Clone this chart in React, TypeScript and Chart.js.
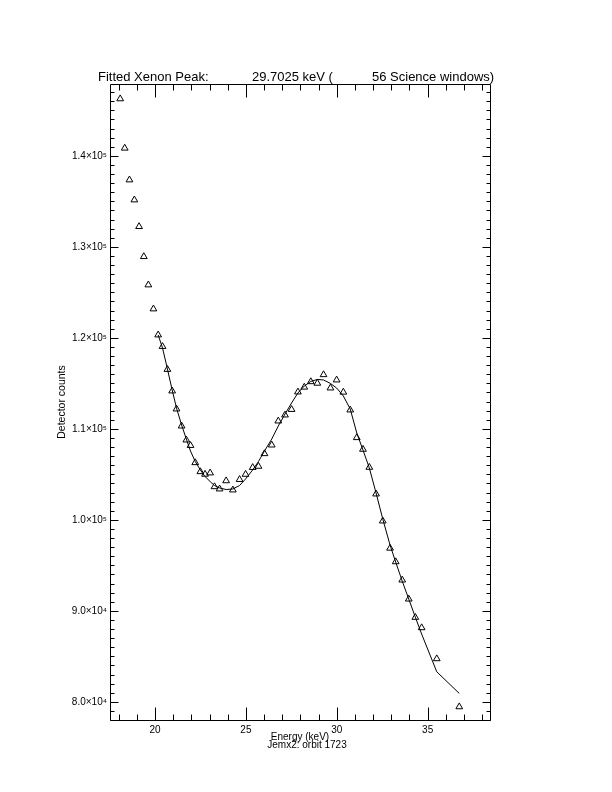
import React, { useEffect, useRef } from "react";
import { Chart, registerables } from "chart.js";

Chart.register(...registerables);

// ---- data ----
const energyKeV = [
  18.08, 18.33, 18.59, 18.86, 19.12, 19.38, 19.63, 19.91, 20.17, 20.41,
  20.68, 20.94, 21.18, 21.46, 21.72, 21.95, 22.21, 22.49, 22.75, 23.03,
  23.27, 23.55, 23.91, 24.28, 24.65, 24.98, 25.37, 25.69, 26.02, 26.42,
  26.78, 27.15, 27.51, 27.86, 28.21, 28.57, 28.93, 29.27, 29.65, 29.99,
  30.36, 30.74, 31.1, 31.44, 31.79, 32.16, 32.53, 32.93, 33.24, 33.6,
  33.96, 34.32, 34.67, 35.5, 36.74,
];

const detectorCounts = [
  146270, 140850, 137360, 135160, 132230, 128930, 125820, 123180, 120320, 119050,
  116530, 114160, 112180, 110310, 108770, 108170, 106280, 105290, 105010, 105150,
  103640, 103390, 104290, 103280, 104430, 105000, 105750, 105880, 107270, 108220,
  110860, 111520, 112130, 114050, 114580, 115180, 115010, 115950, 114490, 115370,
  114030, 112070, 109030, 107750, 105770, 102840, 99870, 96880, 95390, 93380,
  91290, 89280, 88140, 84730, 79450,
];

const fitCounts: (number | null)[] = [
  null, null, null, null, null, null, null, null, 120320, 118890,
  116580, 114270, 112290, 110420, 108880, 107560, 106410, 105480, 104760, 104210,
  103770, 103500, 103330, 103390, 103770, 104490, 105480, 106410, 107560, 108880,
  110310, 111630, 112840, 113940, 114710, 115210, 115430, 115370, 114990, 114490,
  113610, 112180, 109540, 107670, 105700, 102950, 100090, 97230, 95360, 93270,
  91290, 89310, 87440, 83300, 80920,
];

const xRange = [17.52, 38.43];
const yRange = [78000, 147900];
const xMajorTicks = [20, 25, 30, 35];
const xTickLabels = ["20", "25", "30", "35"];
const xMinorStep = 1;
const yMajorTicks = [80000, 90000, 100000, 110000, 120000, 130000, 140000];
const yTickLabels = ["8.0×10⁴", "9.0×10⁴", "1.0×10⁵", "1.1×10⁵", "1.2×10⁵", "1.3×10⁵", "1.4×10⁵"];
const yMinorStep = 1000;

const titleParts = ["Fitted Xenon Peak:", "29.7025 keV (", "56 Science windows)"];
const xTitle = "Energy (keV)";
const xSubTitle = "Jemx2: orbit 1723";
const yTitle = "Detector counts";

const FONT = "'Liberation Sans', Arial, sans-serif";

const idlFrame = {
  id: "idlFrame",
  afterDraw(chart: any) {
    const { ctx, chartArea: a, scales } = chart;
    const xs = scales.x;
    const ys = scales.y;
    const L = Math.round(a.left) + 0.5;
    const R = Math.round(a.right) + 0.5;
    const T = Math.round(a.top) + 0.5;
    const B = Math.round(a.bottom) + 0.5;
    ctx.save();
    ctx.strokeStyle = "#000";
    ctx.lineWidth = 1;
    ctx.beginPath();
    ctx.rect(L, T, R - L, B - T);
    // x ticks (bottom and top)
    const xMin = Math.ceil(xRange[0]);
    for (let v = xMin; v <= xRange[1]; v += xMinorStep) {
      const major = xMajorTicks.includes(v);
      const len = major ? 13 : 6;
      const px = Math.round(xs.getPixelForValue(v)) + 0.5;
      ctx.moveTo(px, B);
      ctx.lineTo(px, B - len);
      ctx.moveTo(px, T);
      ctx.lineTo(px, T + len);
    }
    // y ticks (left and right)
    const yMin = Math.ceil(yRange[0] / yMinorStep) * yMinorStep;
    for (let v = yMin; v <= yRange[1]; v += yMinorStep) {
      const major = yMajorTicks.includes(v);
      const len = major ? 8 : 4;
      const py = Math.round(ys.getPixelForValue(v)) + 0.5;
      ctx.moveTo(L, py);
      ctx.lineTo(L + len, py);
      ctx.moveTo(R, py);
      ctx.lineTo(R - len, py);
    }
    ctx.stroke();

    // titles
    ctx.fillStyle = "#000";
    ctx.textBaseline = "alphabetic";
    ctx.font = `13px ${FONT}`;
    ctx.textAlign = "left";
    ctx.fillText(titleParts[0], 98, 81);
    ctx.fillText(titleParts[1], 252, 81);
    ctx.fillText(titleParts[2], 372, 81);

    ctx.font = `10px ${FONT}`;
    ctx.textAlign = "center";
    const cx = (a.left + a.right) / 2;
    ctx.fillText(xTitle, cx, 740);
    ctx.fillText(xSubTitle, cx + 7, 748);

    ctx.save();
    ctx.font = `10.5px ${FONT}`;
    ctx.translate(64.5, (a.top + a.bottom) / 2);
    ctx.rotate(-Math.PI / 2);
    ctx.textAlign = "center";
    ctx.fillText(yTitle, 0, 0);
    ctx.restore();

    ctx.restore();
  },
};

export default function App() {
  const ref = useRef<HTMLCanvasElement | null>(null);

  useEffect(() => {
    document.body.style.margin = "0";
    const canvas = ref.current;
    if (!canvas) return;

    const points = energyKeV.map((x, i) => ({ x, y: detectorCounts[i] }));
    const fitPoints = energyKeV
      .map((x, i) => ({ x, y: fitCounts[i] }))
      .filter((p) => p.y !== null);

    const chart = new Chart(canvas, {
      type: "scatter",
      data: {
        datasets: [
          {
            label: "Fit",
            data: fitPoints as any,
            showLine: true,
            borderColor: "#000",
            borderWidth: 1,
            pointRadius: 0,
            pointHoverRadius: 0,
            tension: 0,
            fill: false,
          },
          {
            label: "Counts",
            data: points,
            showLine: false,
            pointStyle: "triangle",
            pointRadius: 3.9,
            pointBorderWidth: 1,
            borderColor: "#000",
            backgroundColor: "rgba(0,0,0,0)",
            pointBackgroundColor: "rgba(0,0,0,0)",
          },
        ],
      },
      options: {
        responsive: false,
        animation: false,
        devicePixelRatio: 1,
        layout: { padding: { left: 0, top: 84, right: 122, bottom: 0 } },
        plugins: {
          legend: { display: false },
          tooltip: { enabled: false },
          title: { display: false },
        },
        scales: {
          x: {
            type: "linear",
            position: "bottom",
            min: xRange[0],
            max: xRange[1],
            grid: { display: false, drawTicks: false },
            border: { display: false },
            afterBuildTicks: (scale: any) => {
              scale.ticks = xMajorTicks.map((v) => ({ value: v }));
            },
            afterFit: (scale: any) => {
              scale.height = 72;
            },
            ticks: {
              padding: 4,
              color: "#000",
              font: { family: FONT, size: 10 },
              maxRotation: 0,
              autoSkip: false,
              callback: (v: any) => {
                const i = xMajorTicks.indexOf(Number(v));
                return i >= 0 ? xTickLabels[i] : "";
              },
            },
          },
          y: {
            type: "linear",
            position: "left",
            min: yRange[0],
            max: yRange[1],
            grid: { display: false, drawTicks: false },
            border: { display: false },
            afterBuildTicks: (scale: any) => {
              scale.ticks = yMajorTicks.map((v) => ({ value: v }));
            },
            afterFit: (scale: any) => {
              scale.width = 110;
            },
            ticks: {
              padding: 3,
              color: "#000",
              font: { family: FONT, size: 10 },
              autoSkip: false,
              callback: (v: any) => {
                const i = yMajorTicks.indexOf(Number(v));
                return i >= 0 ? yTickLabels[i] : "";
              },
            },
          },
        },
      },
      plugins: [idlFrame],
    });

    return () => chart.destroy();
  }, []);

  return (
    <div style={{ position: "absolute", left: 0, top: 0, width: 612, height: 792, background: "#fff" }}>
      <canvas ref={ref} width={612} height={792} style={{ display: "block", width: 612, height: 792 }} />
    </div>
  );
}
